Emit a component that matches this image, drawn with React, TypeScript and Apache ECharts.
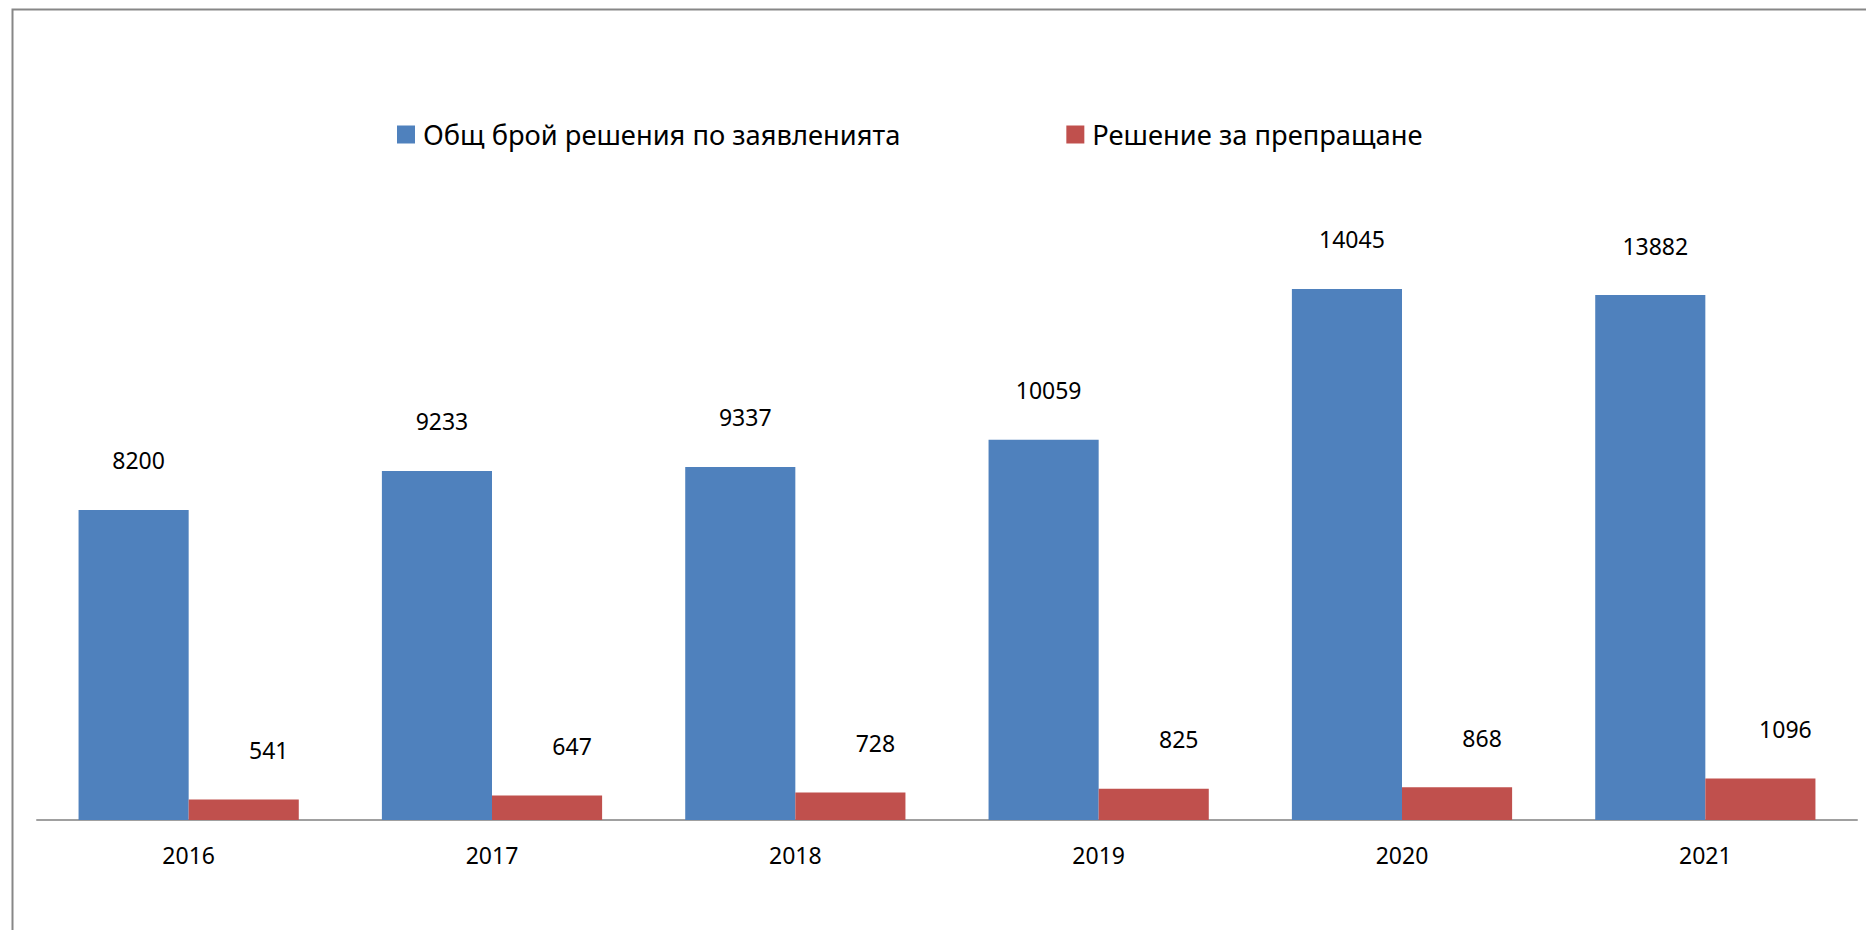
import React, { useEffect, useRef } from "react";
import * as echarts from "echarts";

const years = ["2016", "2017", "2018", "2019", "2020", "2021"];
const totalDecisions = [8200, 9233, 9337, 10059, 14045, 13882];
const referralDecisions = [541, 647, 728, 825, 868, 1096];
const seriesNames = ["Общ брой решения по заявленията", "Решение за препращане"];

const FONT = "'Noto Sans', 'DejaVu Sans', sans-serif";

export default function App() {
  const ref = useRef<HTMLDivElement>(null);
  useEffect(() => {
    if (!ref.current) return;
    const chart = echarts.init(ref.current, undefined, { renderer: "svg" });
    chart.setOption({
      animation: false,
      backgroundColor: "#ffffff",
      textStyle: { fontFamily: FONT },
      graphic: [
        {
          type: "rect",
          shape: { x: 12.5, y: 9.5, width: 2000, height: 1000 },
          style: { fill: "none", stroke: "#878787", lineWidth: 2 },
          silent: true,
        },
      ],
      legend: {
        left: 392,
        top: 116,
        itemWidth: 18,
        itemHeight: 18,
        itemGap: 166,
        icon: "rect",
        textStyle: { fontFamily: FONT, fontSize: 27.3, color: "#000", padding: [0, 0, 0, 3] },
        data: seriesNames,
      },
      grid: { left: 37, right: 9, top: 215, bottom: 110 },
      xAxis: {
        type: "category",
        data: years,
        axisLine: { lineStyle: { color: "#a0a0a0", width: 2 } },
        axisTick: { show: false },
        axisLabel: { color: "#000", fontSize: 23, fontFamily: FONT, margin: 23 },
      },
      yAxis: {
        type: "value",
        min: 0,
        max: 16000,
        show: false,
        splitLine: { show: false },
      },
      series: [
        {
          name: seriesNames[0],
          type: "bar",
          data: totalDecisions,
          barGap: "0%",
          barCategoryGap: "27.4%",
          itemStyle: { color: "#4f81bd" },
          label: {
            show: true,
            position: "top",
            distance: 38,
            offset: [5, 0],
            color: "#000",
            fontSize: 23,
            fontFamily: FONT,
          },
        },
        {
          name: seriesNames[1],
          type: "bar",
          data: referralDecisions,
          barGap: "0%",
          barCategoryGap: "27.4%",
          itemStyle: { color: "#c0504d" },
          label: {
            show: true,
            position: "top",
            distance: 38,
            offset: [25, 0],
            color: "#000",
            fontSize: 23,
            fontFamily: FONT,
          },
        },
      ],
    });
    return () => chart.dispose();
  }, []);
  return (
    <div
      ref={ref}
      style={{ position: "absolute", left: 0, top: 0, width: 1866, height: 930 }}
    />
  );
}
